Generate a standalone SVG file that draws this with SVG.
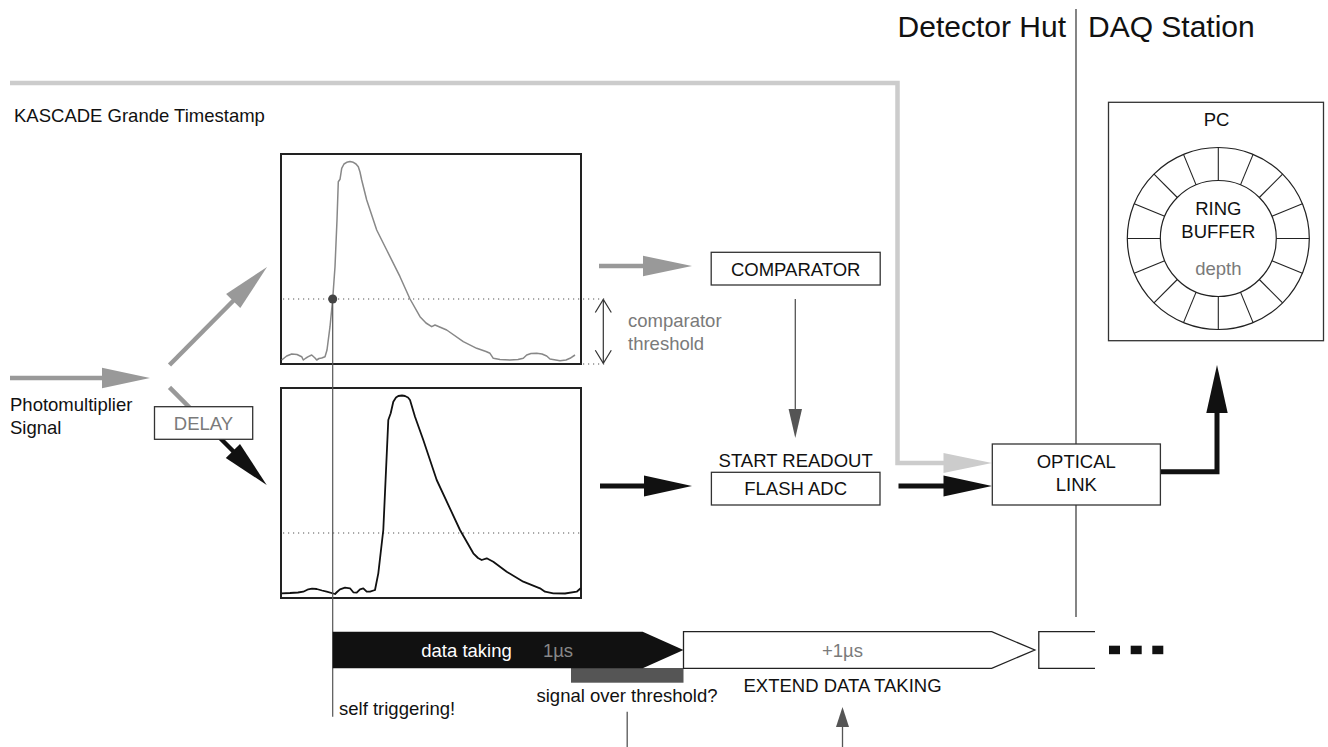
<svg xmlns="http://www.w3.org/2000/svg" width="1328" height="747" viewBox="0 0 1328 747">
<style>
text{font-family:"Liberation Sans",Arial,sans-serif;font-size:18.5px;fill:#111}
.c{text-anchor:middle}
.g{fill:#7a7a7a}
.box{fill:#fff;stroke:#333;stroke-width:1.3}
.plot{fill:#fff;stroke:#222;stroke-width:2}
.dot{stroke:#555;stroke-width:1.2;stroke-dasharray:1.2 3.8;fill:none}
.thin{stroke:#555;stroke-width:1.3;fill:none}
.hd{font-size:30px}
</style>

<!-- header -->
<g id="header">
<text class="hd" x="1066" y="36.5" text-anchor="end">Detector Hut</text>
<text class="hd" x="1088" y="36.5">DAQ Station</text>
<line x1="1076" y1="9" x2="1076" y2="617" stroke="#333" stroke-width="1.2"/>
</g>

<g id="labels">
<text x="14" y="121.7">KASCADE Grande Timestamp</text>
<text x="10" y="410.7">Photomultiplier</text>
<text x="10" y="434">Signal</text>
<text class="g" x="628" y="326.5">comparator</text>
<text class="g" x="628" y="350">threshold</text>
<text x="339" y="715">self triggering!</text>
<text class="c" x="627" y="701.7">signal over threshold?</text>
<text class="c" x="842.5" y="691.7">EXTEND DATA TAKING</text>
</g>

<!-- connectors -->
<g id="connectors">
<!-- timestamp -->
<path d="M10,83 H897.5 V463 H946" fill="none" stroke="#cccccc" stroke-width="4.5"/>
<polygon points="943.5,453 992,463 943.5,473" fill="#cccccc"/>
<!-- input -->
<line x1="10" y1="378" x2="105" y2="378" stroke="#999" stroke-width="4.5"/>
<polygon points="102,367.7 150,378 102,388.3" fill="#999"/>
<!-- up-right -->
<line x1="169.5" y1="365" x2="236" y2="298" stroke="#999" stroke-width="4.5"/>
<polygon points="267,267 240.3,308 226.1,294" fill="#999"/>
<!-- down-right -->
<line x1="169.5" y1="387.3" x2="200" y2="418" stroke="#999" stroke-width="4.5"/>
<line x1="212" y1="430" x2="236" y2="454" stroke="#111" stroke-width="4.5"/>
<polygon points="266.7,485 225.8,458 240,443.9" fill="#111"/>
<!-- to comparator -->
<line x1="599" y1="266" x2="645" y2="266" stroke="#999" stroke-width="4.5"/>
<polygon points="643,255.7 692,266 643,276.3" fill="#999"/>
<!-- to flash adc -->
<line x1="600" y1="486" x2="646" y2="486" stroke="#111" stroke-width="5"/>
<polygon points="644,475.5 692,486 644,496.5" fill="#111"/>
<!-- to optical link -->
<line x1="898.5" y1="486" x2="946" y2="486" stroke="#111" stroke-width="5"/>
<polygon points="943.5,475.5 992,486 943.5,496.5" fill="#111"/>
<!-- optical link to PC -->
<path d="M1160.5,471.7 H1217 V410" fill="none" stroke="#111" stroke-width="5"/>
<polygon points="1206.3,413 1217,365 1227.7,413" fill="#111"/>
<!-- comparator to start readout -->
<line x1="795.3" y1="299" x2="795.3" y2="412" class="thin"/>
<polygon points="788.6,409 795.3,438 802,409" fill="#555"/>
<!-- bottom indicators -->
<line x1="627.2" y1="711.7" x2="627.2" y2="747" class="thin"/>
<line x1="842.5" y1="747" x2="842.5" y2="725" class="thin"/>
<polygon points="836,727 842.5,707 849,727" fill="#555"/>
<!-- threshold double arrow -->
<line x1="603.3" y1="299.5" x2="603.3" y2="363.3" stroke="#333" stroke-width="1.2"/>
<polyline points="595.3,312.5 603.3,299.5 611.3,312.5" fill="none" stroke="#333" stroke-width="1.2"/>
<polyline points="595.3,350.3 603.3,363.3 611.3,350.3" fill="none" stroke="#333" stroke-width="1.2"/>
</g>

<!-- top plot -->
<g id="plot-comparator">
<rect class="plot" x="281" y="154" width="300" height="210"/>
<line class="dot" x1="283" y1="299" x2="606" y2="299"/>
<line class="dot" x1="583" y1="364" x2="606" y2="364"/>
<polyline fill="none" stroke="#888" stroke-width="1.5" stroke-linejoin="round" points="281.7,360 286.7,356 291.7,354 297,354.5 301.7,356.7 303.3,360 306,358 308.3,356.7 311.7,355 315,358 316.7,360 319,358.5 321.7,358 325,356.7 327,350 330,326.7 332.7,299 335,266.7 337,220 338.3,181.7 340,179.3 341.7,168.3 344,164 346.7,162.3 350,161.5 353.3,162.3 356,164 358.3,166.7 360,172 361.7,180 366.7,200 376.7,230 386.7,250 400,276.7 410,299 420,316.7 426,323 431.7,326.7 435,325 446.7,330 463.3,341.7 476.7,348.3 486,351.5 490,353.3 493.3,358.3 500,359.5 510,360 518,359.6 523.3,358.3 526.7,355 531,353.5 536.7,353.3 542,354 546.7,356 550,359 560,360.7 566,360 570,358.3 575,355"/>
</g>

<!-- bottom plot -->
<g id="plot-adc">
<rect class="plot" x="281" y="388" width="300" height="210"/>
<line class="dot" x1="283" y1="533" x2="580" y2="533"/>
<polyline fill="none" stroke="#111" stroke-width="1.8" stroke-linejoin="round" points="281.7,593.3 290,593 298,592.5 303.3,591.7 308.3,589.3 312,588.7 316.7,589 322,590.5 326.7,591.7 335,594 337,592 340,589.3 345,587.7 350,588.3 353.3,592.3 356.7,592.7 360,589.3 363.3,588.3 366.7,591.7 370,591.7 375,590 378.3,573.3 383.3,530 388.3,420 390.7,413.3 393.3,401.7 396,397.5 398.3,396 402,395.5 405,396 408,397.5 410,400 415,416.7 423.3,440 436.7,480 460,530 473.3,553.3 478,558 481.7,560 486.7,558.3 493.3,561.7 506.7,571.7 523.3,581.7 540,588.3 545,591.7 553.3,593.3 565,593.5 576.7,591.7 580.7,588.3"/>
</g>

<g id="trigger-marker">
<line x1="332.7" y1="299" x2="332.7" y2="716.7" stroke="#555" stroke-width="1.2"/>
<circle cx="332.7" cy="299" r="4.5" fill="#444"/>
</g>

<g id="delay">
<rect class="box" x="154.5" y="406.7" width="98.2" height="32.6"/>
<text class="c g" x="203.5" y="430">DELAY</text>
</g>

<g id="comparator">
<rect class="box" x="711.2" y="252.3" width="169" height="32.7"/>
<text class="c" x="795.7" y="276">COMPARATOR</text>
</g>

<g id="flash-adc">
<text class="c" x="795.7" y="467.3">START READOUT</text>
<rect class="box" x="711.4" y="472.3" width="168.6" height="32.7"/>
<text class="c" x="795.7" y="495">FLASH ADC</text>
</g>

<g id="optical-link">
<rect class="box" x="992.3" y="444" width="168.1" height="61"/>
<text class="c" x="1076.3" y="468.3">OPTICAL</text>
<text class="c" x="1076.3" y="491">LINK</text>
</g>

<g id="pc">
<rect class="box" x="1108.5" y="102.3" width="215" height="238.4"/>
<text class="c" x="1216.5" y="126">PC</text>
<circle cx="1218.3" cy="238.5" r="91" fill="none" stroke="#222" stroke-width="1.2"/>
<circle cx="1218.3" cy="238.5" r="58" fill="none" stroke="#222" stroke-width="1.2"/>
<g stroke="#222" stroke-width="1.1">
<line x1="1276.3" y1="238.5" x2="1309.3" y2="238.5"/>
<line x1="1271.9" y1="216.3" x2="1302.4" y2="203.7"/>
<line x1="1259.3" y1="197.5" x2="1282.6" y2="174.2"/>
<line x1="1240.5" y1="184.9" x2="1253.1" y2="154.4"/>
<line x1="1218.3" y1="180.5" x2="1218.3" y2="147.5"/>
<line x1="1196.1" y1="184.9" x2="1183.5" y2="154.4"/>
<line x1="1177.3" y1="197.5" x2="1154" y2="174.2"/>
<line x1="1164.7" y1="216.3" x2="1134.2" y2="203.7"/>
<line x1="1160.3" y1="238.5" x2="1127.3" y2="238.5"/>
<line x1="1164.7" y1="260.7" x2="1134.2" y2="273.3"/>
<line x1="1177.3" y1="279.5" x2="1154" y2="302.8"/>
<line x1="1196.1" y1="292.1" x2="1183.5" y2="322.6"/>
<line x1="1218.3" y1="296.5" x2="1218.3" y2="329.5"/>
<line x1="1240.5" y1="292.1" x2="1253.1" y2="322.6"/>
<line x1="1259.3" y1="279.5" x2="1282.6" y2="302.8"/>
<line x1="1271.9" y1="260.7" x2="1302.4" y2="273.3"/>
</g>
<text class="c" x="1218.3" y="215">RING</text>
<text class="c" x="1218.3" y="237.5">BUFFER</text>
<text class="c g" x="1218.3" y="275">depth</text>
</g>

<g id="timeline">
<rect x="571" y="668" width="112.5" height="14.7" fill="#555"/>
<path d="M332.7,631.7 H642.7 L683.5,650 L642.7,668.3 H332.7 Z" fill="#111"/>
<text class="c" x="466.5" y="656.7" style="fill:#fff">data taking</text>
<text class="c" x="558" y="656.7" style="fill:#888">1µs</text>
<path d="M683.5,631.7 H991.7 L1034.8,650 L991.7,668.3 H683.5 Z" fill="#fff" stroke="#222" stroke-width="1.3"/>
<text class="c g" x="842.5" y="656.7">+1µs</text>
<path d="M1095,631.7 H1038.8 V668.3 H1095" fill="none" stroke="#222" stroke-width="1.3"/>
<rect x="1109" y="645.7" width="11" height="8.5" fill="#111"/>
<rect x="1130.7" y="645.7" width="11" height="8.5" fill="#111"/>
<rect x="1152.3" y="645.7" width="11" height="8.5" fill="#111"/>
</g>
</svg>
